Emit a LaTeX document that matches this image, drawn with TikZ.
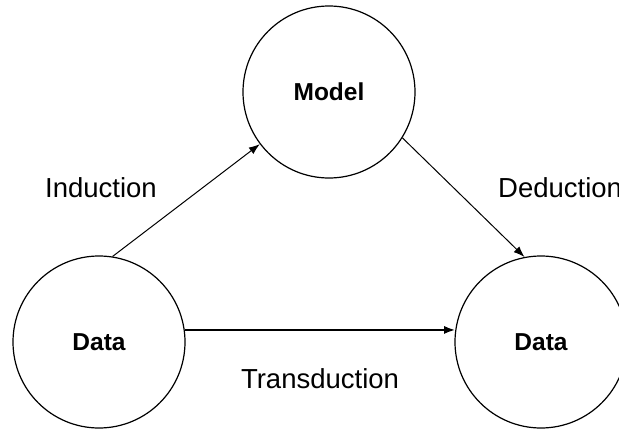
\documentclass[tikz,border=0pt]{standalone}
\usepackage{fontspec}
\setmainfont{Liberation Sans}
\usetikzlibrary{arrows.meta}

\begin{document}
\begin{tikzpicture}[x = 1pt, y = -1pt,
        blob/.style = {circle, draw = black, line width = 1.2pt, minimum size = 172pt, inner sep = 0pt, font = \fontsize{24.5}{29}\selectfont\bfseries},
        lbl/.style = {font = \fontsize{27.5}{33}\selectfont, inner sep = 0pt},
        arr/.style = {-{Latex[length = 11pt, width = 8pt]}, line width = 1pt}]
        \useasboundingbox (0, 0) rectangle (619, 431);
        \node[blob] (model) at (329, 92) {Model};
        \node[blob] (dataL) at (99, 342) {Data};
        \node[blob] (dataR) at (541, 342) {Data};
        \draw[arr] (dataL.81) -- (model.217);
        \draw[arr] (model.328) -- (dataR.101);
        \draw[arr, line width = 2pt] (dataL.8) -- (dataR.172);
        \node[lbl, anchor = base] (induc) at (101, 197) {Induction};
        \node[lbl, anchor = base west] (deduc) at (498, 197) {Deduction};
        \node[lbl, anchor = base] (transduc) at (320, 388) {Transduction};
    \end{tikzpicture}
\end{document}
